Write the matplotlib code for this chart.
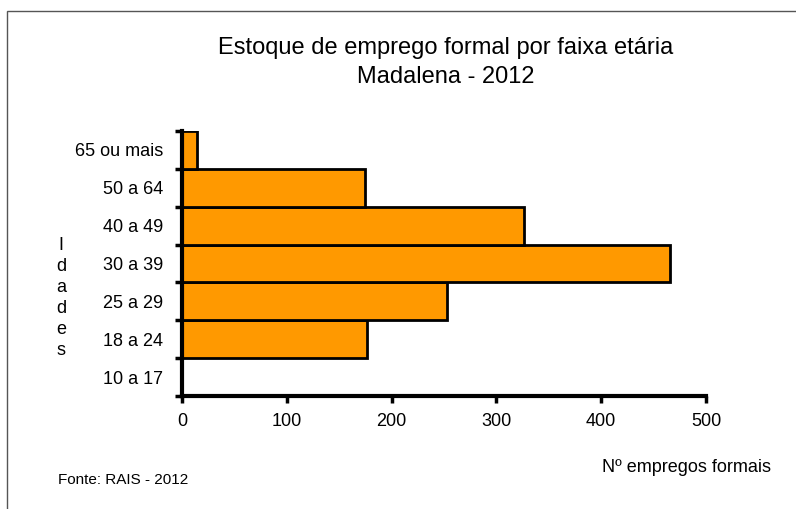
import matplotlib
matplotlib.use("Agg")
import matplotlib.pyplot as plt
from matplotlib.patches import Rectangle

categories = ["10 a 17", "18 a 24", "25 a 29", "30 a 39", "40 a 49", "50 a 64", "65 ou mais"]
values = [0, 177, 253, 466, 326, 175, 14]
x_ticks = [0, 100, 200, 300, 400, 500]

plt.rcParams['font.family'] = ['Liberation Sans', 'DejaVu Sans']

W, H = 796, 509
fig = plt.figure(figsize=(W / 100, H / 100), dpi=100)
fig.patch.set_facecolor("white")

# figure border (left and top visible)
fig.add_artist(Rectangle((7 / W, -0.01), 1.2, 1 - 11 / H + 0.01, transform=fig.transFigure,
                         fill=False, edgecolor="#555555", linewidth=1.0))

ax = fig.add_axes([182 / W, 1 - 396 / H, (706 - 182) / W, (396 - 131) / H])
ypos = [i + 0.5 for i in range(len(categories))]
ax.barh(ypos, values, height=1.0, color="#FF9900", edgecolor="black", linewidth=2.0)

ax.set_xlim(0, 500)
ax.set_ylim(0, len(categories))
ax.set_xticks(x_ticks)
ax.set_xticklabels([str(v) for v in x_ticks], fontsize=13)
ax.set_yticks(ypos)
ax.set_yticklabels(categories, fontsize=13)
ax.set_yticks(range(len(categories) + 1), minor=True)
ax.tick_params(axis="y", which="major", length=0, pad=13.5)
ax.tick_params(axis="y", which="minor", length=5, width=2.5, direction="out")
ax.tick_params(axis="x", length=5, width=2.5, direction="out", pad=7)
for s in ["top", "right"]:
    ax.spines[s].set_visible(False)
for s in ["left", "bottom"]:
    ax.spines[s].set_linewidth(3)

fig.text(446 / W, 1 - 48 / H, "Estoque de emprego formal por faixa etária", ha="center", va="center", fontsize=17)
fig.text(446 / W, 1 - 77 / H, "Madalena - 2012", ha="center", va="center", fontsize=17)

fig.text(61 / W, 1 - 298 / H, "I\nd\na\nd\ne\ns", ha="center", va="center", fontsize=13, linespacing=1.3)

fig.text(58 / W, 1 - 480 / H, "Fonte: RAIS - 2012", ha="left", va="center", fontsize=11)
fig.text(771 / W, 1 - 468 / H, "Nº empregos formais", ha="right", va="center", fontsize=13)

fig.savefig("out.png", dpi=100)
